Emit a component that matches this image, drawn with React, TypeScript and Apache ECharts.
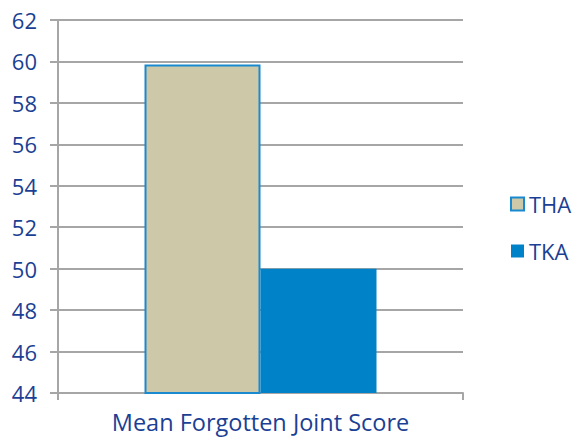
import React, { useEffect, useRef } from "react";
import * as echarts from "echarts";

const categories = ["Mean Forgotten Joint Score"];
const thaValues = [59.85];
const tkaValues = [50.0];
const seriesNames = ["THA", "TKA"];

const labelColor = "#1b3f94";
const gridColor = "#a6a6a6";
const font = "'Open Sans', Lato, sans-serif";

export default function App() {
  const ref = useRef<HTMLDivElement>(null);
  useEffect(() => {
    if (!ref.current) return;
    const chart = echarts.init(ref.current, undefined, { renderer: "svg" });
    chart.setOption({
      animation: false,
      grid: { left: 58, right: 112, top: 20, bottom: 45, containLabel: false },
      legend: {
        orient: "vertical",
        left: 505,
        top: 187,
        itemGap: 23,
        itemWidth: 13,
        itemHeight: 13,
        icon: "rect",
        textStyle: { color: labelColor, fontSize: 22, lineHeight: 24, fontFamily: font },
        data: seriesNames,
      },
      xAxis: {
        type: "category",
        data: categories,
        axisLine: { show: true, lineStyle: { color: gridColor, width: 2 } },
        axisTick: { show: true, length: 7, alignWithLabel: false, lineStyle: { color: gridColor, width: 2 } },
        axisLabel: { color: labelColor, fontSize: 23.5, fontFamily: font, margin: 17 },
      },
      yAxis: {
        type: "value",
        min: 44,
        max: 62,
        interval: 2,
        axisLine: { show: true, lineStyle: { color: gridColor, width: 2 } },
        axisTick: { show: true, length: 8, lineStyle: { color: gridColor, width: 2 } },
        splitLine: { show: true, lineStyle: { color: gridColor, width: 2 } },
        axisLabel: { color: labelColor, fontSize: 22, fontFamily: font, margin: 21 },
      },
      series: [
        {
          name: seriesNames[0],
          type: "bar",
          data: thaValues,
          barWidth: 116,
          barGap: "0%",
          itemStyle: { color: "#cdc8a8", borderColor: "#1a8ad0", borderWidth: 2 },
        },
        {
          name: seriesNames[1],
          type: "bar",
          data: tkaValues,
          barWidth: 116,
          barGap: "0%",
          itemStyle: { color: "#0082c8" },
        },
      ],
    });
    return () => chart.dispose();
  }, []);
  return (
    <div
      ref={ref}
      style={{ position: "absolute", left: 0, top: 0, width: 575, height: 438 }}
    />
  );
}
